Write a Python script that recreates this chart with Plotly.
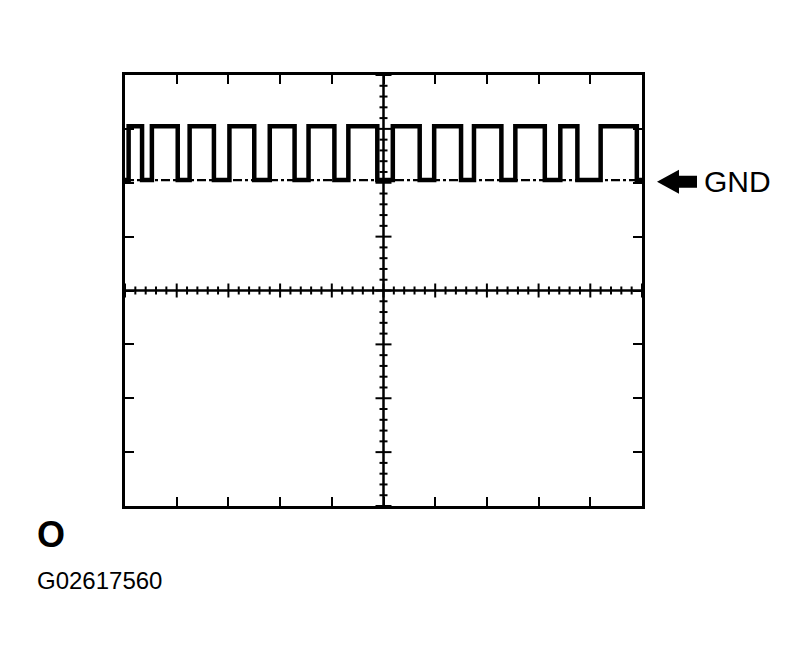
import plotly.graph_objects as go

# scope screen: 10 horizontal divisions, 8 vertical divisions
X_DIVS = 10
Y_DIVS = 8
GND_LEVEL = 6.05
HIGH_LEVEL = 7.05

# high parts of the pulse train (in divisions)
pulse_start = [0.07, 0.52, 1.25, 2.02, 2.80, 3.55, 4.32, 5.18, 5.98, 6.75, 7.55, 8.42, 9.20]
pulse_end = [0.33, 1.02, 1.72, 2.50, 3.28, 4.05, 4.88, 5.70, 6.50, 7.28, 8.12, 8.75, 9.90]

screen_label = "O"
figure_code = "G02617560"
gnd_label = "GND"

W, H = 809, 665
OFF = 8  # page body margin
L, R, T, B = 125 - OFF, 167 + OFF, 75 - OFF, 159 + OFF
PW = W - L - R
PH = H - T - B
px_x = PW / X_DIVS   # pixels per x division
px_y = PH / Y_DIVS   # pixels per y division

# build the step waveform
xs, ys = [0], [GND_LEVEL]
for s, e in zip(pulse_start, pulse_end):
    xs += [s, s, e, e]
    ys += [GND_LEVEL, HIGH_LEVEL, HIGH_LEVEL, GND_LEVEL]
xs.append(X_DIVS)
ys.append(GND_LEVEL)

fig = go.Figure()

# GND reference (dash-dot)
fig.add_trace(go.Scatter(x=[0, X_DIVS], y=[GND_LEVEL, GND_LEVEL], mode="lines",
                         line=dict(color="black", width=2.2, dash="dashdot"), hoverinfo="skip"))
fig.add_trace(go.Scatter(x=xs, y=ys, mode="lines",
                         line=dict(color="black", width=4.5), hoverinfo="skip"))

shapes = []
# centre cross
shapes.append(dict(type="line", xref="x", yref="y", x0=0, x1=X_DIVS, y0=Y_DIVS / 2, y1=Y_DIVS / 2,
                   line=dict(color="black", width=2.5)))
shapes.append(dict(type="line", xref="x", yref="y", x0=X_DIVS / 2, x1=X_DIVS / 2, y0=0, y1=Y_DIVS,
                   line=dict(color="black", width=2.5)))
# minor ticks on the centre cross (5 per division)
for i in range(X_DIVS * 5 + 1):
    x = i / 5
    h = (7 if i % 5 == 0 else 4) / px_y
    shapes.append(dict(type="line", xref="x", yref="y", x0=x, x1=x, y0=Y_DIVS / 2 - h, y1=Y_DIVS / 2 + h,
                       line=dict(color="black", width=2)))
for i in range(Y_DIVS * 5 + 1):
    y = i / 5
    w = (8 if i % 5 == 0 else 4) / px_x
    shapes.append(dict(type="line", xref="x", yref="y", x0=X_DIVS / 2 - w, x1=X_DIVS / 2 + w, y0=y, y1=y,
                       line=dict(color="black", width=2)))

# GND arrow (outside the screen, on the right)
ax0 = 1 + (657 - 642) / PW
ax1 = 1 + (679 - 642) / PW
ax2 = 1 + (697 - 642) / PW
hh = 12 / px_y
sh = 6 / px_y
g = GND_LEVEL - 0.03
shapes.append(dict(type="path", xref="paper", yref="y",
                   path=f"M {ax0},{g} L {ax1},{g + hh} L {ax1},{g + sh} L {ax2},{g + sh} "
                        f"L {ax2},{g - sh} L {ax1},{g - sh} L {ax1},{g - hh} Z",
                   fillcolor="black", line=dict(width=0)))

annotations = [
    dict(text=gnd_label, xref="paper", yref="y", x=1 + (702 - 642) / PW, y=g,
         xanchor="left", yanchor="middle", showarrow=False,
         font=dict(family="Liberation Sans, Arial", size=30, color="black")),
    dict(text=f"<b>{screen_label}</b>", xref="paper", yref="paper", x=(35 - 125) / PW, y=-(534 - 506) / PH,
         xanchor="left", yanchor="middle", showarrow=False,
         font=dict(family="Liberation Sans, Arial", size=36, color="black")),
    dict(text=figure_code, xref="paper", yref="paper", x=(35 - 125) / PW, y=-(580 - 506) / PH,
         xanchor="left", yanchor="middle", showarrow=False,
         font=dict(family="Liberation Sans, Arial", size=24, color="black")),
]

axis_common = dict(showgrid=False, zeroline=False, showticklabels=False, showline=True,
                   linecolor="black", linewidth=3, mirror="ticks", ticks="inside",
                   ticklen=9, tickwidth=2, tickcolor="black", dtick=1, tick0=0, fixedrange=True)

fig.update_layout(
    width=W, height=H,
    margin=dict(l=L, r=R, t=T, b=B),
    paper_bgcolor="white", plot_bgcolor="white",
    showlegend=False,
    xaxis=dict(range=[0, X_DIVS], **axis_common),
    yaxis=dict(range=[0, Y_DIVS], **axis_common),
    shapes=shapes,
    annotations=annotations,
)

fig.write_html("out.html")
